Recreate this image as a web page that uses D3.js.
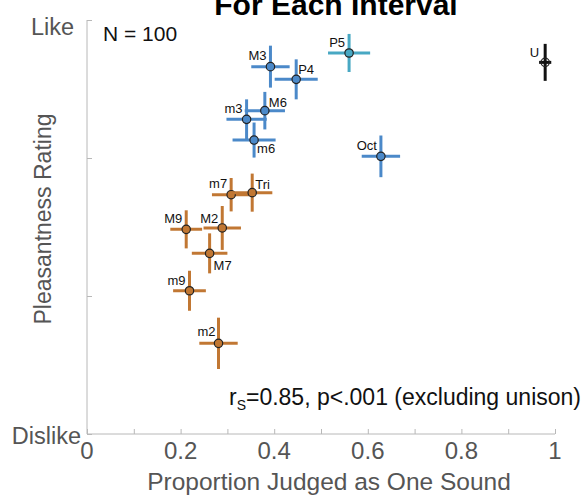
<!DOCTYPE html>
<html>
<head>
<meta charset="utf-8">
<script src="https://cdn.jsdelivr.net/npm/d3@7"></script>
<style>
  body { margin: 0; background: #fff; }
  svg { display: block; }
</style>
</head>
<body>
<script>
// interval data
let intervals = ["M3", "P4", "P5", "U", "M6", "m3", "m6", "Oct", "m7", "Tri", "M9", "M2", "M7", "m9", "m2"];
let proportion = [0.392, 0.447, 0.560, 0.979, 0.380, 0.341, 0.357, 0.628, 0.308, 0.353, 0.212, 0.289, 0.262, 0.219, 0.281];
let pleasant   = [2.662, 2.570, 2.761, 2.693, 2.343, 2.280, 2.130, 2.012, 1.734, 1.749, 1.483, 1.493, 1.309, 1.038, 0.657];
let propErr    = [0.041, 0.046, 0.045, 0.013, 0.043, 0.043, 0.046, 0.041, 0.041, 0.043, 0.034, 0.040, 0.038, 0.035, 0.041];
let pleasErr   = [0.152, 0.145, 0.138, 0.134, 0.136, 0.145, 0.127, 0.151, 0.121, 0.138, 0.138, 0.159, 0.145, 0.145, 0.186];
let group      = ["imperfect", "imperfect", "fifth", "unison", "imperfect", "imperfect", "imperfect", "imperfect",
                  "dissonant", "dissonant", "dissonant", "dissonant", "dissonant", "dissonant", "dissonant"];

let xTicks = [0, 0.2, 0.4, 0.6, 0.8, 1];
let yTicks = [0, 1, 2, 3];
let yTickLabels = ["Dislike", "", "", "Like"];

let width = 586, height = 497;

let svg = d3.select("body").append("svg")
    .attr("width", width)
    .attr("height", height)
    .style("font-family", "'Liberation Sans', Arial, sans-serif");

let xScale = d3.scaleLinear().domain([0, 1]).range([87, 555]);
let yScale = d3.scaleLinear().domain([0, 3]).range([434, 20]);

let colorScale = d3.scaleOrdinal()
    .domain(["imperfect", "fifth", "unison", "dissonant"])
    .range(["#4b89c9", "#48a8c3", "#111111", "#c17733"]);

let axisColor = "#b8b8b8", labelColor = "#555";

// x axis: inward minor ticks every 0.1, labels every 0.2
let xAxis = svg.append("g")
    .attr("transform", "translate(0,434)")
    .call(d3.axisBottom(xScale).tickValues(d3.range(0, 1.001, 0.1)).tickSize(-5).tickFormat(""));
xAxis.select(".domain").attr("stroke", axisColor).attr("d", "M87,0H555");
xAxis.selectAll(".tick line").attr("stroke", axisColor);

svg.append("g").selectAll("text")
    .data(xTicks)
    .enter().append("text")
    .attr("x", d => xScale(d))
    .attr("y", 459)
    .attr("text-anchor", "middle")
    .attr("font-size", 24)
    .attr("fill", labelColor)
    .text(d => d === 0 || d === 1 ? d : d.toFixed(1));

// y axis
let yAxis = svg.append("g")
    .attr("transform", "translate(87,0)")
    .call(d3.axisLeft(yScale).tickValues(yTicks).tickSize(-5).tickFormat((d, i) => yTickLabels[i]));
yAxis.select(".domain").attr("stroke", axisColor).attr("d", "M0,20V434");
yAxis.selectAll(".tick line").attr("stroke", axisColor);
yAxis.selectAll(".tick text")
    .attr("x", d => d === 3 ? -13 : -6)
    .attr("y", d => d === 3 ? 14 : 9)
    .attr("dy", 0)
    .attr("font-size", 23.5)
    .attr("fill", labelColor)
    .attr("font-family", "'Liberation Sans', Arial, sans-serif");

// axis titles
svg.append("text")
    .attr("x", 329)
    .attr("y", 490)
    .attr("text-anchor", "middle")
    .attr("font-size", 24.5)
    .attr("fill", labelColor)
    .text("Proportion Judged as One Sound");

svg.append("text")
    .attr("transform", "translate(51,219) rotate(-90)")
    .attr("text-anchor", "middle")
    .attr("font-size", 23)
    .attr("fill", labelColor)
    .text("Pleasantness Rating");

// title (second line, top clipped as in the source)
svg.append("text")
    .attr("x", 336)
    .attr("y", 15)
    .attr("text-anchor", "middle")
    .attr("font-size", 30)
    .attr("font-weight", "bold")
    .attr("fill", "#000")
    .text("For Each Interval");

svg.append("text")
    .attr("x", 103)
    .attr("y", 41)
    .attr("font-size", 21)
    .attr("fill", "#111")
    .text("N = 100");

let stat = svg.append("text")
    .attr("x", 581)
    .attr("y", 405)
    .attr("text-anchor", "end")
    .attr("font-size", 23)
    .attr("fill", "#111");
stat.append("tspan").text("r");
stat.append("tspan").attr("font-size", 14).attr("dy", 5).text("S");
stat.append("tspan").attr("dy", -5).text("=0.85, p<.001 (excluding unison)");

// points with error bars
let data = intervals.map((name, i) => ({
    name: name, x: proportion[i], y: pleasant[i],
    ex: propErr[i], ey: pleasErr[i], group: group[i]
}));

let pts = svg.append("g").selectAll("g")
    .data(data)
    .enter().append("g");

pts.append("line")
    .attr("x1", d => xScale(d.x - d.ex))
    .attr("x2", d => xScale(d.x + d.ex))
    .attr("y1", d => yScale(d.y))
    .attr("y2", d => yScale(d.y))
    .attr("stroke", d => colorScale(d.group))
    .attr("stroke-width", 3);

pts.append("line")
    .attr("x1", d => xScale(d.x))
    .attr("x2", d => xScale(d.x))
    .attr("y1", d => yScale(d.y - d.ey))
    .attr("y2", d => yScale(d.y + d.ey))
    .attr("stroke", d => colorScale(d.group))
    .attr("stroke-width", 3);

pts.append("circle")
    .attr("cx", d => xScale(d.x))
    .attr("cy", d => yScale(d.y))
    .attr("r", 4.2)
    .attr("fill", d => d.group === "unison" ? "none" : colorScale(d.group))
    .attr("stroke", "#222")
    .attr("stroke-width", 1.2);

// label placement: [dx, dy, anchor]
let place = {
    M3: [-4, -7, "end"], P4: [2, -5, "start"], P5: [-4, -6, "end"], U: [-6, -5, "end"],
    M6: [4, -4, "start"], m3: [-4, -6, "end"], m6: [3, 13, "start"], Oct: [-4, -6, "end"],
    m7: [-4, -7, "end"], Tri: [3, -4, "start"], M9: [-4, -6, "end"], M2: [-4, -5, "end"],
    M7: [4, 17, "start"], m9: [-4, -6, "end"], m2: [-3, -7, "end"]
};

pts.append("text")
    .attr("x", d => xScale(d.x) + place[d.name][0])
    .attr("y", d => yScale(d.y) + place[d.name][1])
    .attr("text-anchor", d => place[d.name][2])
    .attr("font-size", 13)
    .attr("fill", "#111")
    .text(d => d.name);
</script>
</body>
</html>
